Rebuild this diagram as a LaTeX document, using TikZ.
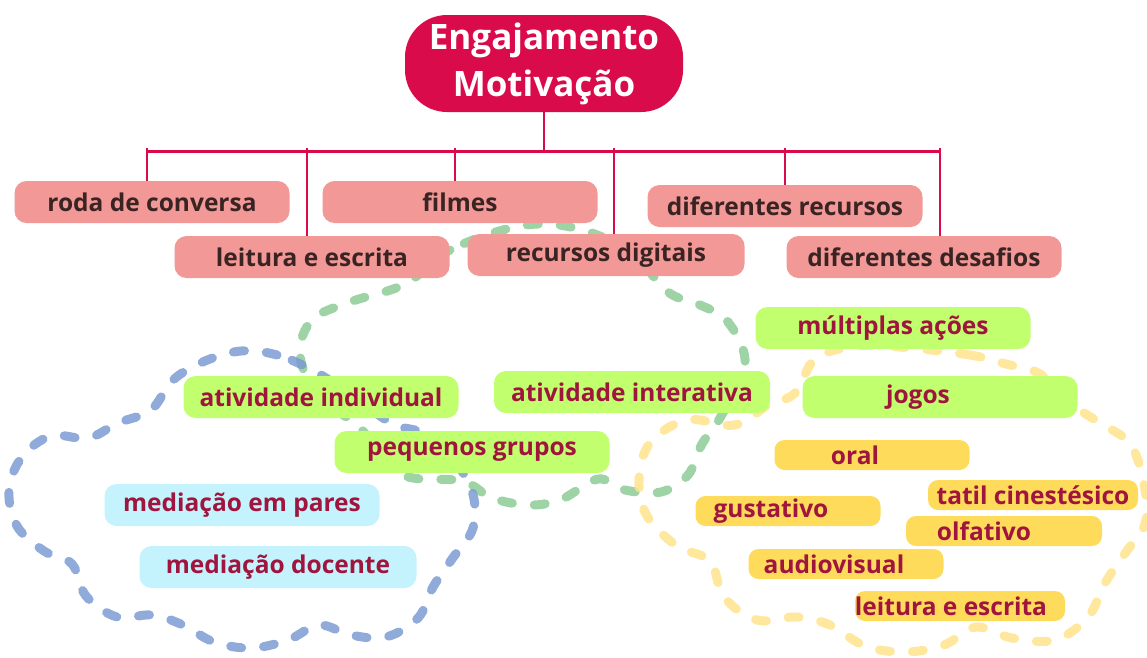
\documentclass[tikz,border=0pt]{standalone}
\usepackage{fontspec}
\setmainfont{Open Sans}
\usepackage{xcolor}
\usepackage{tikz}
\usetikzlibrary{positioning}

\definecolor{rootred}{HTML}{DA0B4A}
\definecolor{salmon}{HTML}{F29896}
\definecolor{lime}{HTML}{C2FF6E}
\definecolor{sky}{HTML}{C4F3FD}
\definecolor{sun}{HTML}{FFDB5C}
\definecolor{wine}{HTML}{A0153E}
\definecolor{topink}{HTML}{3A2323}
\definecolor{loopblue}{HTML}{7C9BD2}
\definecolor{loopgreen}{HTML}{8DCB97}
\definecolor{loopyellow}{HTML}{FFE38C}

\begin{document}
\begin{tikzpicture}[
  x=1pt, y=-1pt,
  every node/.style={font=\bfseries\fontsize{24.5}{28}\selectfont},
  box/.style={rounded corners=12pt, minimum width=275pt, minimum height=42pt, inner sep=0pt},
  topbox/.style={box, fill=salmon, text=topink},
  greenbox/.style={box, fill=lime, text=wine},
  bluebox/.style={box, fill=sky, text=wine},
  sunbox/.style={box, rounded corners=10pt, minimum height=30pt, fill=sun, text=wine},
  loop/.style={line width=9pt, line cap=round, dash pattern=on 11pt off 22pt, opacity=0.85},
  tree/.style={rootred, line width=2.5pt},
]
\useasboundingbox (0,0) rectangle (1147,657);

% loops behind the boxes
\draw[loop, loopgreen] plot[smooth cycle, tension=0.6] coordinates {
  (520,226) (450,250) (405,284) (350,302) (312,320) (300,355) (318,395)
  (360,428) (400,474) (462,481) (492,498) (530,505) (562,499) (598,479)
  (625,490) (661,492) (688,475) (702,444) (720,418) (745,365) (728,322)
  (698,304) (668,292) (630,252) (575,228)};
\draw[loop, loopblue] plot[smooth cycle, tension=0.6] coordinates {
  (316,372) (277,355) (241,351) (205,361) (173,380) (151,410) (118,423)
  (88,438) (51,436) (22,457) (9,490) (17,526) (44,551) (72,564) (86,596)
  (117,617) (152,615) (183,625) (214,642) (251,648) (288,640) (319,625)
  (351,635) (386,637) (418,618) (433,587) (452,559) (473,528) (472,491)
  (450,455) (423,433) (393,424) (355,398)};
\draw[loop, loopyellow] plot[smooth cycle, tension=0.6] coordinates {
  (900,347) (970,355) (1006,364) (1040,374) (1068,402) (1100,423)
  (1131,445) (1145,490) (1145,524) (1126,552) (1105,583) (1088,617)
  (1055,640) (1012,638) (976,627) (944,645) (905,652) (865,646)
  (830,625) (797,617) (757,620) (724,597) (710,561) (677,546) (647,516)
  (639,480) (650,443) (687,420) (735,425) (768,405) (795,393) (816,358)
  (858,346)};

% root and first row
\node (root) [rounded corners=42pt, fill=rootred, text=white, align=center,
  minimum width=278pt, minimum height=97pt, inner sep=0pt,
  font=\bfseries\fontsize{35}{47}\selectfont] at (544,63.5) {Engajamento\\Motivação};

\node (roda)     [topbox] at (152,202) {roda de conversa};
\node (filmes)   [topbox] at (460,202) {filmes};
\node (difrec)   [topbox] at (785,206) {diferentes recursos};
\node (leitura)  [topbox] at (312,257) {leitura e escrita};
\node (digitais) [topbox, minimum width=277pt] at (606,255) {recursos digitais};
\node (desafios) [topbox] at (924,257) {diferentes desafios};

\coordinate (bar) at (544,151);
\coordinate (bL) at (147,151);
\coordinate (bR) at (940,151);
\draw[tree] (root) -- (bar);
\draw[tree, line width=3pt] (bL) -- (bR);
\foreach \x/\n in {147/roda, 307/leitura, 455/filmes, 614/digitais, 785/difrec, 940/desafios}
  \draw[tree] (\x,148) -- (\x,148 |- \n.north);

% activities
\node (multi)  [greenbox] at (893,328) {múltiplas ações};
\node (indiv)  [greenbox] at (321,397) {atividade individual};
\node (inter)  [greenbox, minimum width=276pt] at (632,392) {atividade interativa};
\node (jogos)  [greenbox] at (940,397) {\hspace*{-44pt}jogos};
\node (grupos) [greenbox] at (472,452) {pequenos grupos};

\node (pares)   [bluebox] at (242,505) {mediação em pares};
\node (docente) [bluebox, minimum width=277pt] at (278,567) {mediação docente};

% senses
\node (oral)      [sunbox, minimum width=195pt] at (872,455) {\hspace*{-34pt}oral};
\node (tatil)     [sunbox, minimum width=210pt] at (1033,495) {tatil cinestésico};
\node (gustativo) [sunbox, minimum width=185pt] at (788,511) {\hspace*{-34pt}gustativo};
\node (olfativo)  [sunbox, minimum width=196pt] at (1004,531) {\hspace*{-40pt}olfativo};
\node (audio)     [sunbox, minimum width=195pt] at (846,564) {\hspace*{-24pt}audiovisual};
\node (leit2)     [sunbox, minimum width=210pt] at (960,606) {\hspace*{-18pt}leitura e escrita};
\end{tikzpicture}
\end{document}
